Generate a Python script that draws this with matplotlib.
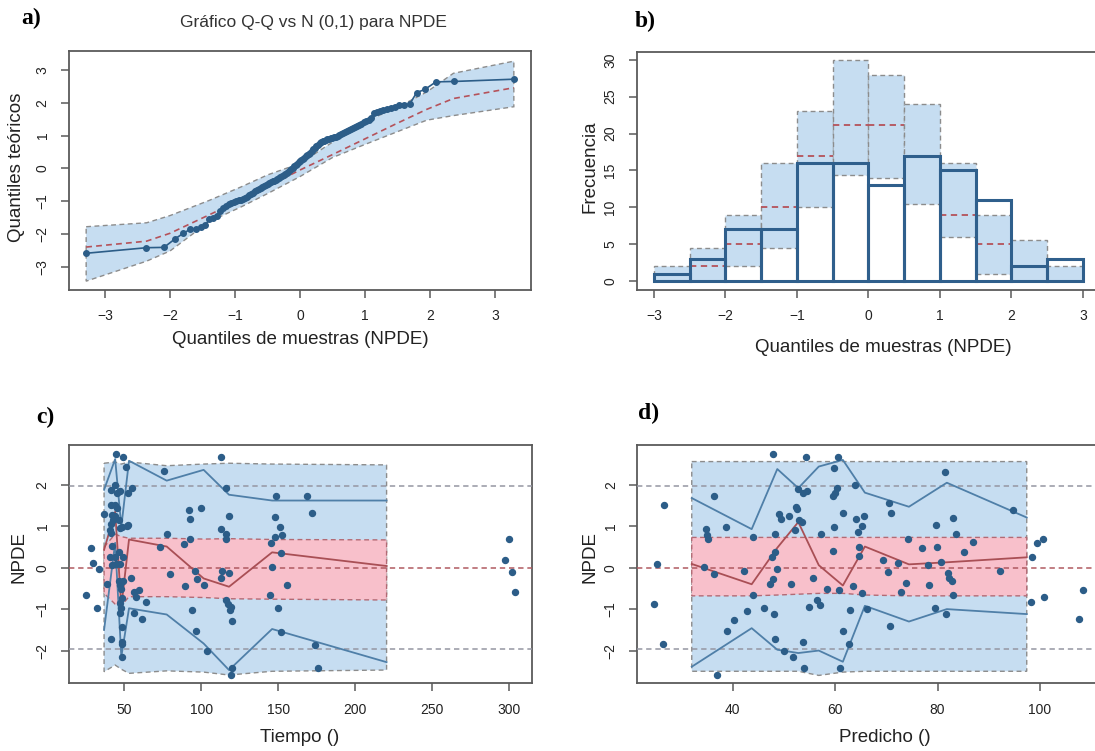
import matplotlib
matplotlib.use("Agg")
import matplotlib.pyplot as plt
import numpy as np
from statistics import NormalDist

plt.rcParams['font.family'] = ['Liberation Sans', 'DejaVu Sans']

# ---- datos a) y b): npde ordenados (111 observaciones)
npde_qq = [
    -2.59,
    -2.42, -2.41, -2.15,
    -1.98, -1.86, -1.85, -1.80, -1.73, -1.55, -1.52,
    -1.45, -1.30, -1.22, -1.15, -1.10, -1.06, -1.02,
    -0.99, -0.97, -0.95, -0.93, -0.90, -0.86, -0.82, -0.78, -0.74, -0.70,
    -0.67, -0.64, -0.60, -0.57, -0.54, -0.51,
    -0.48, -0.45, -0.42, -0.40, -0.38, -0.35, -0.32, -0.29, -0.26, -0.23,
    -0.20, -0.17, -0.13, -0.10, -0.06, -0.02,
    0.02, 0.06, 0.10, 0.14, 0.18, 0.21, 0.25, 0.29, 0.33, 0.37, 0.41, 0.45, 0.48,
    0.53, 0.58, 0.63, 0.68, 0.72, 0.76, 0.79, 0.82, 0.85, 0.87, 0.89, 0.91,
    0.93, 0.94, 0.96, 0.97, 0.99,
    1.02, 1.05, 1.08, 1.11, 1.14, 1.17, 1.20, 1.23, 1.26, 1.29, 1.32, 1.36,
    1.40, 1.44, 1.48,
    1.53, 1.69, 1.72, 1.75, 1.78, 1.81, 1.84, 1.88, 1.92, 1.93, 1.97,
    2.31, 2.41,
    2.64, 2.65, 2.72,
]

# banda de prediccion del grafico Q-Q
qq_band_x = [-3.29, -2.36, -2.0, -1.4, -0.9, -0.5, 0.0, 0.5, 1.0, 1.5, 1.95, 2.36, 3.29]
qq_hi = [-1.78, -1.66, -1.44, -0.98, -0.56, -0.20, 0.15, 0.80, 1.43, 1.86, 2.33, 2.90, 3.27]
qq_med = [-2.40, -2.22, -1.98, -1.42, -0.95, -0.55, -0.05, 0.42, 0.90, 1.38, 1.80, 2.13, 2.46]
qq_lo = [-3.44, -2.83, -2.52, -1.63, -1.17, -0.77, -0.25, 0.33, 0.73, 1.12, 1.47, 1.61, 1.88]

# histograma
hist_edges = [-3, -2.5, -2, -1.5, -1, -0.5, 0, 0.5, 1, 1.5, 2, 2.5, 3]
hist_hi = [2, 4.5, 9, 16, 23, 30, 28, 24, 16, 9, 5.5, 2]
hist_med = [1, 2, 5, 10, 17, 21.1, 21.1, 17, 9, 5, 2, 0]
hist_lo = [0, 0, 2, 4.45, 10, 14.4, 13.95, 10.4, 5.95, 0.95, 0, 0]

# ---- c) npde vs tiempo
tiempo = [44.4, 49.0, 51.1, 54.8, 52.6, 44.0, 41.1, 45.1, 46.9, 36.8, 41.3, 44.0, 45.1,
          41.8, 44.0, 46.2, 42.9, 41.1, 40.6, 41.1, 48.3, 47.2, 51.5, 52.6, 28.1, 41.8,
          29.8, 33.7, 40.6, 44.0, 46.2, 49.0, 41.8, 44.6, 46.9, 25.1, 32.0, 38.9, 46.2,
          46.9, 49.0, 47.7, 48.3, 46.9, 47.7, 46.9, 48.3, 41.1, 48.3, 48.3, 48.3, 54.2,
          56.3, 57.6, 59.8, 64.1, 56.3, 61.7, 73.2, 77.8, 76.0, 79.8,
          113.0, 115.8, 91.9, 99.9, 92.4, 118.0, 113.0, 116.3, 115.8, 92.8, 88.6, 147.7,
          148.8, 169.0, 172.0, 150.9, 148.1, 152.7, 145.3, 152.0, 145.8, 155.7, 95.6,
          97.1, 101.7, 89.3, 113.4, 118.0, 113.0, 115.8, 117.3, 119.1, 118.4, 94.1,
          120.1, 144.7, 150.1, 96.3, 152.0, 103.9, 173.7, 120.1, 119.4, 175.9, 299.9,
          297.3, 301.7, 303.9]
npde_t = [2.75, 2.67, 2.42, 1.93, 1.80, 2.00, 1.88, 1.81, 1.86, 1.30, 1.51, 1.51, 1.43,
          1.27, 1.25, 1.16, 1.15, 1.06, 0.91, 0.83, 0.97, 0.95, 1.01, 1.03, 0.47, 0.52,
          0.12, -0.02, 0.25, 0.25, 0.39, 0.25, 0.07, 0.09, 0.10, -0.66, -0.98, -0.40, -0.32,
          -0.43, -0.32, -0.52, -0.74, -0.86, -0.98, -1.10, -1.42, -1.73, -1.79, -1.84, -2.16,
          -0.26, -0.58, -0.70, -0.53, -0.84, -1.10, -1.25, 0.49, 0.81, 2.33, -0.15,
          2.66, 1.93, 1.38, 1.43, 1.17, 1.25, 0.93, 0.81, 0.69, 0.69, 0.57, 1.22,
          1.73, 1.72, 1.31, 0.98, 0.74, 0.78, 0.60, 0.36, 0.01, -0.42, -0.07,
          -0.28, -0.42, -0.44, -0.07, -0.13, -0.25, -0.78, -0.88, -0.94, -1.02, -1.02,
          -1.28, -0.66, -0.98, -1.52, -1.55, -2.00, -1.87, -2.43, -2.59, -2.43, 0.69,
          0.19, -0.11, -0.58]

t_bins = [36.8, 44, 48, 53, 77.5, 101.5, 118, 146, 220.4]
t_p95 = [1.88, 2.62, 0.99, 2.58, 2.10, 2.36, 1.76, 1.62, 1.62]
t_p50 = [0.43, 1.35, -0.94, 0.68, 0.51, -0.26, -0.46, 0.37, 0.04]
t_p05 = [-1.50, 0.60, -2.15, -0.98, -1.13, -1.83, -2.47, -1.48, -2.28]
t_ext_hi = [2.52, 2.55, 2.50, 2.55, 2.46, 2.50, 2.52, 2.50, 2.48]
t_ext_lo = [-2.51, -2.35, -2.45, -2.55, -2.49, -2.52, -2.59, -2.50, -2.47]
t_med_hi = [0.50, 0.81, 0.75, 0.71, 0.71, 0.69, 0.70, 0.68, 0.67]
t_med_lo = [-0.62, -0.88, -0.92, -0.70, -0.70, -0.72, -0.75, -0.76, -0.78]

# ---- d) npde vs prediccion
pred = [26.6, 25.3, 24.7, 26.4, 36.35, 34.7, 35.0, 35.2, 38.7, 34.3, 36.35, 43.9, 42.2,
        43.9, 42.7, 40.2, 38.9, 37.0, 47.9, 48.2, 48.2, 47.6, 48.7, 47.9, 47.2, 46.1,
        48.1, 48.2, 49.1, 49.4, 51.0, 52.3, 52.6, 53.0, 53.5, 52.2, 51.3, 50.0, 51.8,
        54.3, 52.8, 53.7, 54.5, 57.2, 55.7, 54.8, 56.5, 57.0, 53.8, 53.9, 58.4, 59.7,
        59.5, 59.5, 60.0, 59.7, 60.7, 61.0, 60.6, 60.4, 63.9, 61.6, 64.1, 65.6, 65.3,
        64.5, 64.7, 64.7, 63.4, 65.3, 62.8, 66.3, 61.6, 62.7, 70.5, 70.9, 69.3, 70.4,
        72.3, 74.2, 73.8, 72.8, 70.8, 76.9, 78.2, 78.4, 79.8, 79.7, 80.6, 81.4, 79.4,
        81.6, 82.0, 82.2, 82.8, 83.1, 83.1, 83.6, 85.2, 87.0, 92.1, 94.8, 98.4, 98.2,
        99.5, 100.5, 100.7, 108.45, 107.7]
npde_p = [1.51, 0.08, -0.88, -1.84, 1.74, 0.93, 0.79, 0.70, 0.99, 0.02, -0.15, 0.75, -0.08,
          -0.66, -1.04, -1.26, -1.53, -2.58, 2.75, 0.81, 0.39, 0.25, -0.03, -0.28, -0.40, -0.98,
          -1.12, -1.72, 1.30, 1.17, 1.25, 1.46, 1.42, 1.14, 1.10, 0.91, -0.40, -2.00, -2.15,
          2.67, 1.89, 1.81, 1.84, 0.81, -0.26, -0.94, -0.77, -0.89, -1.79, -2.42, -0.51, 0.98,
          0.40, 1.72, 1.80, 2.40, -0.55, -2.42, 2.67, 1.93, 2.00, 1.31, 1.17, 1.25, 1.01,
          0.86, 0.51, 0.27, -0.45, -0.61, -1.01, -1.00, -1.52, -1.84, 1.56, 1.31, 0.19, -0.10,
          0.12, 0.69, -0.38, -0.58, -1.41, 0.47, 0.06, -0.41, 0.51, 1.03, 0.13, 2.32, -0.98,
          -1.12, -0.14, -0.26, -0.31, -0.66, 1.21, 0.81, 0.37, 0.61, -0.07, 1.38, 0.25, -0.84,
          0.59, 0.69, -0.70, -0.54, -1.24]

p_bins = [32, 43.7, 48.7, 52.8, 56.8, 61.5, 65.8, 74.4, 81.8, 97.4]
p_p95 = [1.68, 0.93, 2.38, 1.92, 2.44, 2.60, 1.81, 1.47, 2.05, 1.21]
p_p50 = [0.09, -0.40, 0.48, 1.10, 0.06, -0.43, 0.51, 0.08, 0.13, 0.25]
p_p05 = [-2.39, -1.46, -1.98, -2.06, -2.00, -2.27, -0.92, -1.30, -1.00, -1.12]
p_ext_hi = [2.56, 2.56, 2.56, 2.56, 2.56, 2.56, 2.56, 2.56, 2.56, 2.56]
p_ext_lo = [-2.50, -2.50, -2.50, -2.50, -2.60, -2.52, -2.50, -2.50, -2.50, -2.50]
p_med_hi = [0.73, 0.73, 0.73, 0.73, 0.73, 0.73, 0.73, 0.73, 0.73, 0.73]
p_med_lo = [-0.68, -0.68, -0.66, -0.64, -0.62, -0.62, -0.66, -0.68, -0.68, -0.68]

# colores
AZUL_CLARO = '#c6ddf1'
ROSA = '#f8c0cb'
AZUL = '#2c5d88'
AZUL_LINEA = '#4f7fa8'
ROJO = '#a94f55'
GRIS = '#8c8c8c'
DASH = (0, (3.5, 2.5))

W, H = 1095, 751
fig = plt.figure(figsize=(W / 100, H / 100), dpi=100)


def caja(l, t, r, b):
    return fig.add_axes([l / W, 1 - b / H, (r - l) / W, (b - t) / H])


def estilo(ax):
    for s in ax.spines.values():
        s.set_color('#5a5a5a')
        s.set_linewidth(1.3)
    ax.tick_params(direction='out', length=6, width=1.1, color='#5a5a5a',
                   labelsize=10, labelcolor='#222222', pad=8)
    ax.tick_params(axis='y', labelrotation=90, pad=8)
    for lab in ax.get_yticklabels():
        lab.set_verticalalignment('center')


def etiquetas(ax, xl, yl, xpos, ypos):
    ax.set_xlabel(xl, fontsize=13.5, color='#222222', va='center', ha='center')
    ax.set_ylabel(yl, fontsize=13.5, color='#222222', va='center', ha='center')
    ax.xaxis.set_label_coords(*xpos)
    ax.yaxis.set_label_coords(*ypos)


# ---------------- a) grafico Q-Q
ax = caja(69, 51, 531, 290)
n = len(npde_qq)
nd = NormalDist()
qq_x = [nd.inv_cdf(min(max(i / (n - 1), 0.0005), 0.9995)) for i in range(n)]
bx = np.array(qq_band_x)
ax.fill(np.r_[bx, bx[::-1]], np.r_[qq_hi, qq_lo[::-1]], facecolor=AZUL_CLARO,
        edgecolor=GRIS, linestyle=DASH, linewidth=1.0, zorder=1)
ax.plot(qq_band_x, qq_med, color='#b5525a', linestyle=DASH, linewidth=1.2, zorder=2)
ax.plot(qq_x, npde_qq, '-o', color=AZUL, markersize=4.0, linewidth=1.2, zorder=3)
ax.set_xlim(-3.554, 3.554)
ax.set_ylim(-3.71, 3.58)
ax.set_xticks(range(-3, 4))
ax.set_yticks(range(-3, 4))
estilo(ax)
etiquetas(ax, 'Quantiles de muestras (NPDE)', 'Quantiles teóricos',
          (0.5, (290 - 340) / 239), ((17 - 69) / 462, 0.515))
fig.text(313 / W, 1 - 23 / H, 'Gráfico Q-Q vs N (0,1) para NPDE', fontsize=12.5,
         color='#333333', ha='center', va='center')

# ---------------- b) histograma
ax = caja(636.7, 51.7, 1100, 290)
e = np.array(hist_edges)
izq, der = e[:-1], e[1:]
lo = np.array(hist_lo)
ax.bar((izq + der) / 2, np.array(hist_hi) - lo, bottom=lo, width=0.5,
       facecolor=AZUL_CLARO, edgecolor=GRIS, linestyle=DASH, linewidth=1.0, zorder=1)
ax.hlines(hist_med, izq, der, colors='#b5525a', linestyles=DASH, linewidth=1.3, zorder=2)
ax.hist(npde_qq, bins=hist_edges, facecolor='none', edgecolor='#2f5f8c',
        linewidth=2.2, zorder=3)
ax.set_xlim(-3.24, 3.24)
ax.set_ylim(-1.22, 31.1)
ax.set_xticks(range(-3, 4))
ax.set_yticks(range(0, 31, 5))
estilo(ax)
etiquetas(ax, 'Quantiles de muestras (NPDE)', 'Frecuencia',
          ((883 - 636.7) / 463.3, (290 - 347) / 238.3), ((590 - 636.7) / 463.3, 0.516))


# ---------------- c) y d) npde vs x
def panel_npde(ax, xb, ehi, elo, mhi, mlo, p95, p50, p05, xs, ys):
    xb = np.array(xb)
    ax.fill(np.r_[xb, xb[::-1]], np.r_[ehi, elo[::-1]], facecolor=AZUL_CLARO,
            edgecolor=GRIS, linestyle=DASH, linewidth=1.0, zorder=1)
    ax.fill(np.r_[xb, xb[::-1]], np.r_[mhi, mlo[::-1]], facecolor=ROSA,
            edgecolor='#b36a74', linestyle=DASH, linewidth=1.0, zorder=2)
    for yv, c in [(1.96, '#9596a2'), (-1.96, '#9596a2'), (0, '#b05a60')]:
        ax.axhline(yv, color=c, linestyle=DASH, linewidth=1.1, zorder=3)
    ax.plot(xb, p95, color=AZUL_LINEA, linewidth=1.3, zorder=4)
    ax.plot(xb, p05, color=AZUL_LINEA, linewidth=1.3, zorder=4)
    ax.plot(xb, p50, color=ROJO, linewidth=1.3, zorder=4)
    ax.plot(xs, ys, 'o', color=AZUL, markersize=4.3, zorder=5)
    ax.set_ylim(-2.79, 2.96)
    ax.set_yticks(range(-2, 3))


ax = caja(69, 445, 532.3, 683.3)
panel_npde(ax, t_bins, t_ext_hi, t_ext_lo, t_med_hi, t_med_lo,
           t_p95, t_p50, t_p05, tiempo, npde_t)
ax.set_xlim(14.0, 315.1)
ax.set_xticks(range(50, 301, 50))
estilo(ax)
etiquetas(ax, 'Tiempo ()', 'NPDE',
          ((300 - 69) / 463.3, (683.3 - 738) / 238.3), ((19 - 69) / 463.3, 0.53))

ax = caja(637.3, 445, 1100.5, 683.3)
panel_npde(ax, p_bins, p_ext_hi, p_ext_lo, p_med_hi, p_med_lo,
           p_p95, p_p50, p_p05, pred, npde_p)
ax.set_xlim(21.37, 111.8)
ax.set_xticks(range(40, 101, 20))
estilo(ax)
etiquetas(ax, 'Predicho ()', 'NPDE',
          ((885 - 637.3) / 463.2, (683.3 - 738) / 238.3), ((590 - 637.3) / 463.2, 0.53))

# letras de los paneles
for txt, x, y in [('a)', 21, 18.5), ('b)', 635, 21.5), ('c)', 36, 417), ('d)', 638, 413)]:
    fig.text(x / W, 1 - y / H, txt, fontsize=17, fontweight='bold',
             family=['Liberation Serif', 'DejaVu Serif'], ha='left', va='center')

fig.savefig('out.png', dpi=100)
